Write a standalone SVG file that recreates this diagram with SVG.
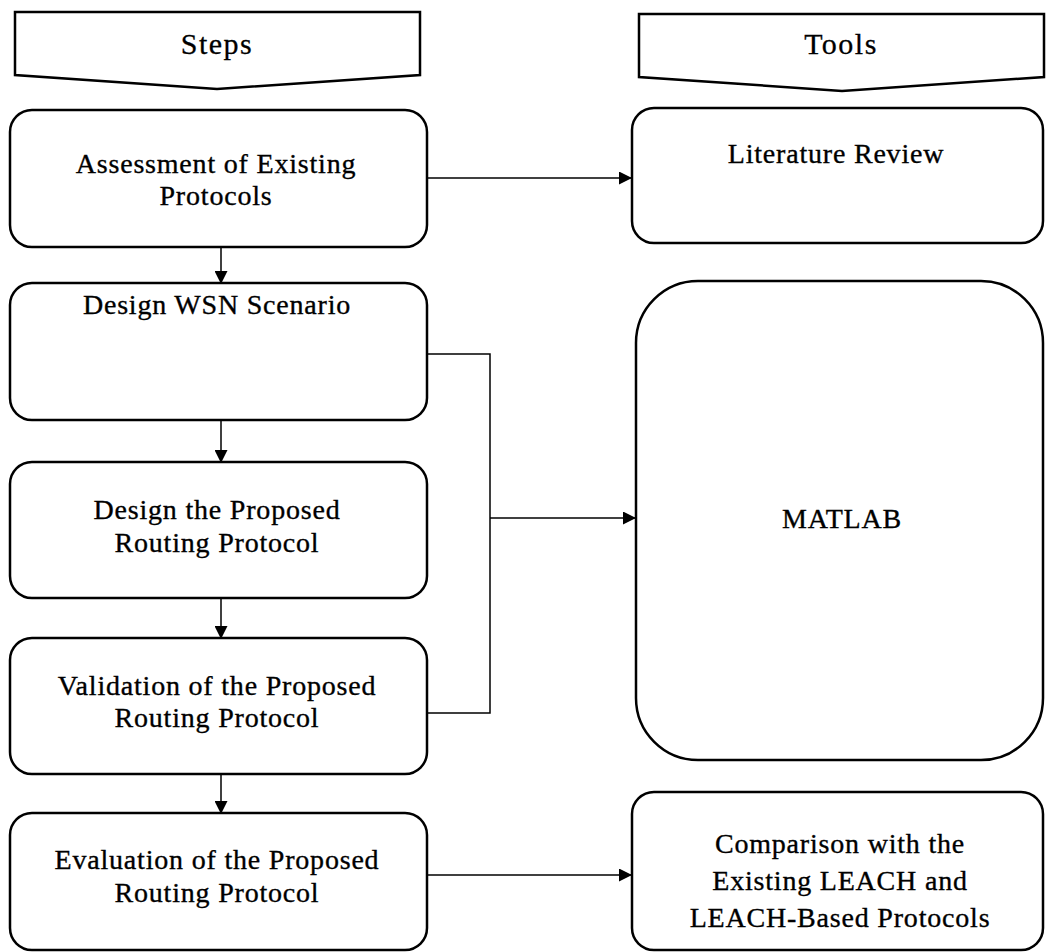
<svg xmlns="http://www.w3.org/2000/svg" width="1046" height="952" viewBox="0 0 1046 952">
<style>
.box{fill:#fff;stroke:#000;stroke-width:2.5}
.hdr{fill:#fff;stroke:#000;stroke-width:2.5;stroke-linejoin:miter}
.t{font-family:"Liberation Serif","Times New Roman",serif;font-size:28px;letter-spacing:0.8px;text-anchor:middle;fill:#000;stroke:#000;stroke-width:0.35}
.h{font-family:"Liberation Serif","Times New Roman",serif;font-size:30px;letter-spacing:1.5px;text-anchor:middle;fill:#000;stroke:#000;stroke-width:0.3}
.c{fill:none;stroke:#000;stroke-width:1.5}
</style>
<defs>
<marker id="ah" markerWidth="13" markerHeight="13" refX="12" refY="6.5" orient="auto" markerUnits="userSpaceOnUse">
<path d="M0,0 L13,6.5 L0,13 Z" fill="#000"/>
</marker>
</defs>
<rect width="1046" height="952" fill="#fff"/>
<g id="steps-header">
<polygon class="hdr" points="15,12 420,12 420,75 217,89 15,75"/>
<text class="h" x="217" y="54">Steps</text>
</g>
<g id="tools-header">
<polygon class="hdr" points="639,14 1044,14 1044,77 842,91 639,77"/>
<text class="h" x="841" y="54">Tools</text>
</g>
<g id="assessment">
<rect class="box" x="10" y="110" width="417" height="137" rx="22"/>
<text class="t" x="216" y="173">Assessment of Existing</text>
<text class="t" x="216" y="205">Protocols</text>
</g>
<g id="design-wsn">
<rect class="box" x="10" y="283" width="417" height="137" rx="22"/>
<text class="t" x="217" y="314">Design WSN Scenario</text>
</g>
<g id="design-protocol">
<rect class="box" x="10" y="462" width="417" height="136" rx="22"/>
<text class="t" x="217" y="519">Design the Proposed</text>
<text class="t" x="217" y="552">Routing Protocol</text>
</g>
<g id="validation">
<rect class="box" x="10" y="638" width="417" height="136" rx="22"/>
<text class="t" x="217" y="695">Validation of the Proposed</text>
<text class="t" x="217" y="727">Routing Protocol</text>
</g>
<g id="evaluation">
<rect class="box" x="10" y="813" width="417" height="137" rx="22"/>
<text class="t" x="217" y="869">Evaluation of the Proposed</text>
<text class="t" x="217" y="902">Routing Protocol</text>
</g>
<g id="literature">
<rect class="box" x="632" y="108" width="411" height="135" rx="22"/>
<text class="t" x="836" y="163">Literature Review</text>
</g>
<g id="matlab">
<rect class="box" x="636" y="281" width="407" height="479" rx="62"/>
<text class="t" x="842" y="528">MATLAB</text>
</g>
<g id="comparison">
<rect class="box" x="632" y="792" width="411" height="158" rx="22"/>
<text class="t" x="840" y="853">Comparison with the</text>
<text class="t" x="840" y="890">Existing LEACH and</text>
<text class="t" x="840" y="927">LEACH-Based Protocols</text>
</g>
<g id="connectors">
<line class="c" x1="427" y1="178" x2="631" y2="178" marker-end="url(#ah)"/>
<line class="c" x1="221" y1="247" x2="221" y2="283" marker-end="url(#ah)"/>
<line class="c" x1="221" y1="420" x2="221" y2="462" marker-end="url(#ah)"/>
<line class="c" x1="221" y1="598" x2="221" y2="638" marker-end="url(#ah)"/>
<line class="c" x1="221" y1="774" x2="221" y2="813" marker-end="url(#ah)"/>
<polyline class="c" points="427,354 490,354 490,713 428,713"/>
<line class="c" x1="490" y1="518" x2="635" y2="518" marker-end="url(#ah)"/>
<line class="c" x1="427" y1="875" x2="631" y2="875" marker-end="url(#ah)"/>
</g>
</svg>
